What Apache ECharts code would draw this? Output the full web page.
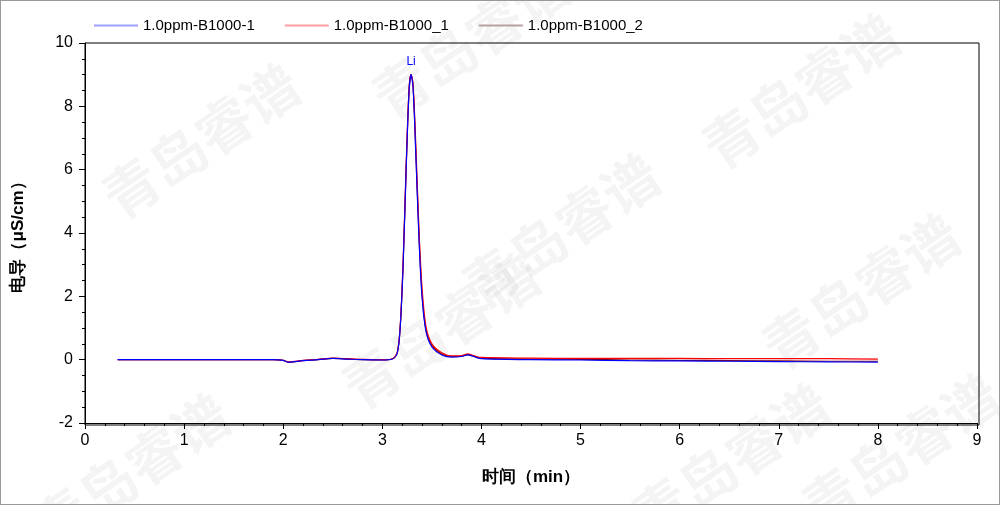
<!DOCTYPE html>
<html><head><meta charset="utf-8">
<script src="https://cdn.jsdelivr.net/npm/echarts@6/dist/echarts.min.js"></script>
<style>html,body{margin:0;padding:0;background:#fff}#c{width:1000px;height:505px;box-sizing:border-box;border:1px solid #999}</style>
</head><body><div id="c"></div>
<script>
const seriesNames = ['1.0ppm-B1000-1','1.0ppm-B1000_1','1.0ppm-B1000_2'];
const seriesColors = ['#0000ff','#ff0000','#800000'];
const legendColors = ['#a0a0ff','#ffa0a0','#b8a0a0'];
const xTicks = [0,1,2,3,4,5,6,7,8,9];
const yTicks = [-2,0,2,4,6,8,10];
const times = [0.33,1.0,1.9,2.0,2.05,2.1,2.2,2.35,2.5,2.65,2.8,3.0,3.1,3.15,3.18,3.21,3.24,3.27,3.29,3.31,3.34,3.37,3.40,3.44,3.5,3.6,3.7,3.8,3.86,3.92,4.0,4.5,5.0,5.5,6.0,6.5,7.0,7.5,8.0];
const blue  = [0,0,0,-0.02,-0.08,-0.07,-0.03,0,0.04,0.02,0,-0.01,0.02,0.2,1.0,3.0,6.0,8.5,9.0,8.6,6.3,3.8,2.0,0.9,0.4,0.15,0.08,0.1,0.15,0.1,0.03,0,-0.01,-0.03,-0.04,-0.05,-0.06,-0.07,-0.08];
const red   = [0,0,0,-0.02,-0.07,-0.06,-0.02,0.01,0.05,0.03,0.01,0,0.03,0.22,1.05,3.1,6.1,8.6,9.0,8.7,6.6,4.1,2.3,1.05,0.5,0.22,0.12,0.13,0.18,0.13,0.07,0.05,0.04,0.04,0.04,0.03,0.03,0.03,0.02];
const brown = [0,0,0,-0.02,-0.08,-0.07,-0.03,0,0.04,0.02,0,-0.01,0.02,0.21,1.0,3.05,6.0,8.5,9.0,8.65,6.4,3.9,2.1,0.95,0.45,0.18,0.1,0.11,0.16,0.11,0.05,0.02,0.01,-0.01,-0.02,-0.03,-0.04,-0.05,-0.05];
const peakLabel = {name:'Li', x:3.29, y:9.0};

const allVals=[blue,red,brown];
const chart = echarts.init(document.getElementById('c'));
const wm=[];
const wmPos=[[200,140],[470,40],[560,230],[440,330],[800,90],[860,290],[730,460],[130,470],[900,450]];
wmPos.forEach(p=>wm.push({type:'text',x:p[0],y:p[1],rotation:0.6,z:-1,style:{text:'青岛睿谱',font:'bold 56px "Noto Sans CJK SC"',fill:'rgba(0,0,0,0.045)',align:'center',verticalAlign:'middle'}}));
const series = seriesNames.map((n,i)=>({name:n,type:'line',symbol:'none',smooth:0.3,color:seriesColors[i],lineStyle:{width:1.2,color:seriesColors[i]},data:times.map((t,j)=>[t,allVals[i][j]]),z:3-i}));
series[0].markPoint={symbol:'circle',symbolSize:1,itemStyle:{color:'rgba(0,0,0,0)'},label:{show:true,position:'top',formatter:peakLabel.name,color:'#0000ff',fontSize:12,distance:6},data:[{coord:[peakLabel.x,peakLabel.y]}]};
chart.setOption({
  animation:false,
  graphic:wm.concat([{type:'rect',shape:{x:84,y:42,width:894,height:382},style:{fill:'none',stroke:'#000',lineWidth:1},z:10}]),
  legend:{top:12,left:88,itemWidth:44,itemHeight:2,itemGap:30,icon:'rect',textStyle:{fontSize:15,color:'#000',fontFamily:'Arial'},
    data:seriesNames.map((n,i)=>({name:n,itemStyle:{color:legendColors[i]}}))},
  grid:{left:84,right:22,top:42,bottom:81},
  xAxis:{type:'value',min:0,max:9,interval:1,name:'时间（min）',nameLocation:'middle',nameGap:46,
    nameTextStyle:{fontSize:17,fontWeight:'bold',color:'#000'},
    axisLine:{show:true,onZero:false,lineStyle:{color:'#000'}},axisTick:{length:6,lineStyle:{color:'#000'}},
    minorTick:{show:true,splitNumber:5,length:3,lineStyle:{color:'#000'}},
    axisLabel:{fontSize:16,color:'#000',margin:10},splitLine:{show:false}},
  yAxis:{type:'value',min:-2,max:10,interval:2,name:'电导（μS/cm）',nameLocation:'middle',nameGap:58,
    nameTextStyle:{fontSize:17,fontWeight:'bold',color:'#000'},
    axisLine:{show:true,lineStyle:{color:'#000'}},axisTick:{length:6,lineStyle:{color:'#000'}},
    minorTick:{show:true,splitNumber:4,length:3,lineStyle:{color:'#000'}},
    axisLabel:{fontSize:16,color:'#000',margin:12},splitLine:{show:false}},
  series:series
});
</script></body></html>
